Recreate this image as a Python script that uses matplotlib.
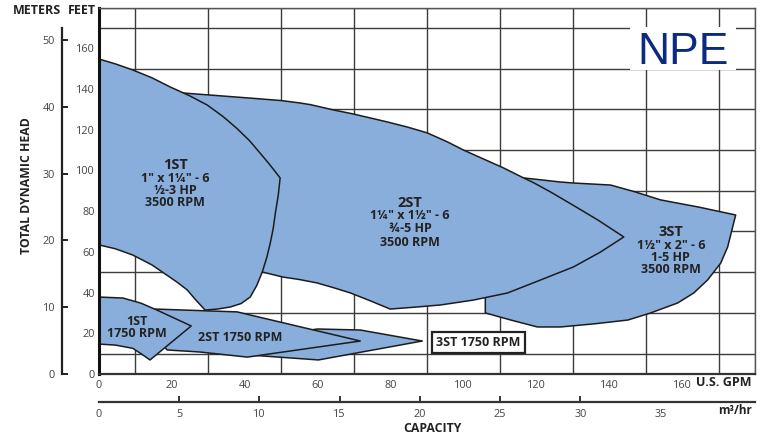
import matplotlib
matplotlib.use("Agg")
import matplotlib.pyplot as plt
from matplotlib.patches import Rectangle

plt.rcParams['font.family'] = ['Open Sans', 'DejaVu Sans']

# ---------------- data (GPM, feet) ----------------
# 3500 RPM operating regions
st1_gpm = [0, 4.5, 9.3, 14.5, 19.5, 24.8, 29.7, 34.0, 37.9, 41.3, 44.2, 47.0, 49.7, 49.2, 48.4, 47.8,
           47.0, 46.0, 44.8, 43.3, 41.5, 39.0, 36.0, 32.5, 29.1, 26.5, 24.2, 21.5, 19.0, 14.5, 9.3, 4.5, 0]
st1_ft = [154.7, 152.3, 149.3, 145.5, 141.0, 136.7, 132.1, 126.5, 120.5, 114.6, 108.5, 102.5, 96.3, 88.0,
          79.1, 71.5, 64.3, 57.0, 50.1, 43.5, 37.8, 34.6, 32.9, 31.9, 31.4, 36.5, 41.3, 45.0, 48.1, 53.6,
          58.4, 61.5, 63.4]

st2_gpm = [23.1, 32.0, 41.5, 50.0, 55.2, 58.0, 64.3, 69.8, 79.1, 84.6, 90.1, 95.6, 100.0, 105.5, 111.0,
           116.5, 119.2, 123.9, 130.0, 137.0, 144.0, 137.5, 130.2, 121.2, 112.1, 102.7, 93.7, 86.5,
           79.9, 74.5, 69.0, 64.5, 59.9, 55.0, 50.5, 44.8, 36.0, 30.0]
st2_ft = [138.0, 136.8, 135.5, 134.3, 133.1, 132.3, 129.7, 127.7, 123.8, 121.3, 118.4, 114.0, 110.0, 105.6,
          101.2, 96.3, 94.0, 89.4, 83.0, 75.5, 67.3, 59.8, 52.6, 46.2, 39.8, 36.3, 33.9, 32.8,
          31.9, 35.9, 39.8, 42.3, 44.7, 46.4, 47.6, 50.1, 60.0, 100.0]

st3_gpm = [106.0, 106.0, 113.0, 120.3, 126.6, 135.7, 145.1, 151.4, 158.8, 163.2, 167.0, 170.6, 172.5,
           174.7, 164.5, 154.1, 147.0, 140.4, 130.2, 126.6, 116.5, 110.0]
st3_ft = [37.3, 30.0, 26.5, 23.1, 23.1, 24.6, 26.5, 30.0, 34.9, 39.8, 46.2, 54.5, 62.4,
          78.1, 82.0, 85.5, 89.5, 92.8, 93.8, 94.3, 96.3, 60.0]

# 1750 RPM operating regions
st1_1750_gpm = [0, 6.6, 11.5, 15.9, 25.3, 14.0, 11.5, 9.3, 4.5, 0]
st1_1750_ft = [37.8, 37.3, 34.8, 31.4, 23.6, 6.9, 10.0, 12.6, 14.2, 14.7]

st2_1750_gpm = [15.4, 37.9, 71.7, 40.7, 27.7, 18.7, 14.0]
st2_1750_ft = [31.9, 30.5, 16.2, 8.3, 10.8, 11.8, 21.6]

st3_1750_gpm = [52.5, 59.9, 71.7, 88.7, 60.2, 41.5]
st3_1750_ft = [20.1, 22.1, 21.6, 16.2, 6.9, 9.3]

gpm_ticks = [0, 20, 40, 60, 80, 100, 120, 140, 160]
ft_ticks = [0, 20, 40, 60, 80, 100, 120, 140, 160]
m_ticks = [0, 10, 20, 30, 40, 50]
m3h_ticks = [0, 5, 10, 15, 20, 25, 30, 35]

FT_PER_M = 3.28084
GPM_PER_M3H = 4.402868

# ---------------- figure ----------------
W, H = 767, 438
fig = plt.figure(figsize=(W / 100, H / 100), dpi=100)

def fx(px):
    return px / W

def fy(py):
    return 1 - py / H

L, R, T, B = 99, 755, 7.5, 374
ax = fig.add_axes([fx(L), fy(B), (R - L) / W, (B - T) / H])
ax.set_xlim(0, 180)
ax.set_ylim(0, 180)

BLUE = '#89aedb'
EDGE = '#1c1c1c'
shapes = [(st3_gpm, st3_ft), (st2_gpm, st2_ft), (st1_gpm, st1_ft),
          (st3_1750_gpm, st3_1750_ft), (st2_1750_gpm, st2_1750_ft), (st1_1750_gpm, st1_1750_ft)]
for z, (xs, ys) in enumerate(shapes):
    ax.fill(xs, ys, facecolor=BLUE, edgecolor=EDGE, linewidth=1.1, zorder=2 + z * 0.1,
            joinstyle='round')

ax.set_xticks(gpm_ticks)
ax.set_yticks(ft_ticks)
ax.set_xticks(range(0, 181, 10), minor=True)
ax.set_yticks(range(0, 181, 10), minor=True)
ax.grid(which='minor', color='#3c3c3c', linewidth=1.0)
ax.set_axisbelow(True)
ax.tick_params(which='both', length=0)
ax.tick_params(axis='x', pad=4, labelsize=7.8, labelcolor='#444444')
ax.tick_params(axis='y', pad=3, labelsize=7.8, labelcolor='#444444')
ax.spines['left'].set_linewidth(2.2)
ax.spines['left'].set_color('#111111')
ax.spines['bottom'].set_linewidth(1.6)
ax.spines['bottom'].set_color('#333333')
for s in ('top', 'right'):
    ax.spines[s].set_linewidth(1.0)
    ax.spines[s].set_color('#555555')
for s in ax.spines.values():
    s.set_zorder(5)

# meters axis
axm = fig.add_axes([fx(62), fy(B), 0.0005, (B - T) / H])
axm.set_ylim(0, 180 / FT_PER_M)
axm.set_xticks([])
axm.patch.set_visible(False)
for s in ('top', 'right', 'bottom'):
    axm.spines[s].set_visible(False)
axm.spines['left'].set_bounds(0, 51.8)
axm.spines['left'].set_linewidth(1.6)
axm.spines['left'].set_color('#222222')
axm.set_yticks(m_ticks)
axm.tick_params(axis='y', direction='in', length=4.5, width=1.4, color='#222222',
                pad=5, labelsize=7.8, labelcolor='#444444')

# m3/hr axis
axc = fig.add_axes([fx(L), fy(402), (R - L) / W, 0.0005])
axc.set_xlim(0, 180 / GPM_PER_M3H)
axc.set_yticks([])
axc.patch.set_visible(False)
for s in ('top', 'right', 'left'):
    axc.spines[s].set_visible(False)
axc.spines['bottom'].set_linewidth(1.6)
axc.spines['bottom'].set_color('#333333')
axc.set_xticks(m3h_ticks)
axc.tick_params(axis='x', direction='in', length=4.5, width=1.4, color='#333333',
                pad=5, labelsize=7.8, labelcolor='#444444')
for t, v in zip(axc.xaxis.get_major_ticks(), m3h_ticks):
    if v in (0, 35):
        t.tick1line.set_visible(False)

# ---------------- texts ----------------
TXT = '#222222'
def blk(x, lines, ys, sizes):
    for s, y, fs in zip(lines, ys, sizes):
        ax.text(x, y, s, ha='center', va='center', fontsize=fs, fontweight='bold',
                color=TXT, zorder=10)

blk(20.9, ['1ST', '1" x 1¼" - 6', '½-3 HP', '3500 RPM'], [102.7, 95.8, 90.0, 84.1], [10.5, 9, 9, 9])
blk(85.4, ['2ST', '1¼" x 1½" - 6', '¾-5 HP', '3500 RPM'], [84.0, 77.6, 71.3, 64.8], [10.5, 9, 9, 9])
blk(156.9, ['3ST', '1½" x 2" - 6', '1-5 HP', '3500 RPM'], [69.7, 62.9, 57.0, 51.1], [10.5, 9, 9, 9])
blk(10.4, ['1ST', '1750 RPM'], [26.0, 20.1], [9, 9])
blk(38.7, ['2ST 1750 RPM'], [17.7], [9])
ax.text(104.1, 15.7, '3ST 1750 RPM', ha='center', va='center', fontsize=9, fontweight='bold',
        color=TXT, zorder=10,
        bbox=dict(boxstyle='square,pad=0.32', facecolor='white', edgecolor='#222222', linewidth=1.6))

fig.text(fx(37), fy(11), 'METERS', ha='center', va='center', fontsize=9, fontweight='bold', color=TXT)
fig.text(fx(82), fy(11), 'FEET', ha='center', va='center', fontsize=9, fontweight='bold', color=TXT)
fig.text(fx(752), fy(383), 'U.S. GPM', ha='right', va='center', fontsize=9, fontweight='bold', color=TXT)
fig.text(fx(752), fy(411), 'm³/hr', ha='right', va='center', fontsize=8.5, fontweight='bold', color=TXT)
fig.text(fx(432), fy(429), 'CAPACITY', ha='center', va='center', fontsize=8.8, fontweight='bold', color=TXT)
fig.text(fx(27), fy(186), 'TOTAL DYNAMIC HEAD', ha='center', va='center', rotation=90,
         fontsize=8.8, fontweight='bold', color=TXT)

# logo box
fig.add_artist(Rectangle((fx(630), fy(70)), 106 / W, 43 / H, transform=fig.transFigure,
                         facecolor='white', edgecolor='none', zorder=5))
fig.text(fx(683.5), fy(63.5), 'NPE', ha='center', va='baseline', fontsize=32,
         family=['Liberation Sans', 'DejaVu Sans'], color='#0d2b7e', zorder=6)

fig.savefig('out.png', dpi=100)
